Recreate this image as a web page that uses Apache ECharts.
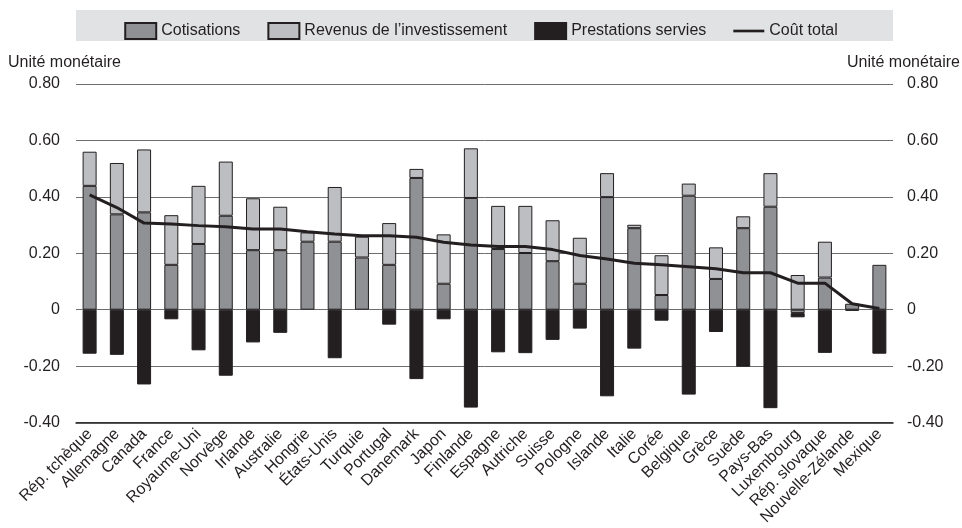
<!DOCTYPE html>
<html>
<head>
<meta charset="utf-8">
<script src="https://cdn.jsdelivr.net/npm/echarts@6/dist/echarts.min.js"></script>
<style>
html,body{margin:0;padding:0;background:#fff;}
#chart{width:962px;height:528px;}
</style>
</head>
<body>
<div id="chart"></div>
<script>
const categories = ['Rép. tchèque','Allemagne','Canada','France','Royaume-Uni','Norvège','Irlande','Australie','Hongrie','États-Unis','Turquie','Portugal','Danemark','Japon','Finlande','Espagne','Autriche','Suisse','Pologne','Islande','Italie','Corée','Belgique','Grèce','Suède','Pays-Bas','Luxembourg','Rép. slovaque','Nouvelle-Zélande','Mexique'];
const cotisations = [0.439,0.338,0.345,0.159,0.233,0.333,0.211,0.211,0.241,0.241,0.185,0.159,0.467,0.092,0.396,0.215,0.201,0.172,0.092,0.399,0.289,0.052,0.404,0.109,0.289,0.365,-0.012,0.114,0.021,0.159];
const revenus = [0.121,0.182,0.223,0.176,0.206,0.192,0.184,0.154,0.033,0.194,0.074,0.148,0.032,0.175,0.176,0.153,0.167,0.145,0.163,0.085,0.012,0.141,0.043,0.112,0.042,0.119,0.123,0.127,null,null];
const prestations = [-0.156,-0.160,-0.265,-0.034,-0.144,-0.234,-0.116,-0.082,null,-0.172,null,-0.053,-0.246,-0.034,-0.347,-0.151,-0.154,-0.107,-0.067,-0.307,-0.138,-0.039,-0.301,-0.079,-0.202,-0.349,-0.015,-0.153,-0.004,-0.156];
const coutTotal = [0.407,0.362,0.307,0.304,0.298,0.294,0.286,0.286,0.276,0.268,0.262,0.262,0.257,0.239,0.229,0.224,0.224,0.213,0.192,0.180,0.165,0.159,0.152,0.145,0.131,0.131,0.094,0.094,0.021,0.004];
const yTicks = {min:-0.4, max:0.8, interval:0.2};
const axisTitle = 'Unité monétaire';

const dark = '#231f20';
const font = 'Liberation Sans, Arial, Helvetica, sans-serif';
const fmt = v => Math.abs(v) < 1e-9 ? '0' : v.toFixed(2);

const chart = echarts.init(document.getElementById('chart'), null, {renderer:'canvas'});
const barStyle = (c) => ({color:c, borderColor:dark, borderWidth:1});
chart.setOption({
  animation:false,
  backgroundColor:'#ffffff',
  textStyle:{fontFamily:font},
  graphic:[
    {type:'rect', left:76, top:10, shape:{width:817, height:31}, style:{fill:'#e1e2e3'}, z:-1},
    {type:'text', left:8, top:55, style:{text:axisTitle, font:'16px '+font, fill:dark}},
    {type:'text', right:2, top:55, style:{text:axisTitle, font:'16px '+font, fill:dark}}
  ],
  legend:{
    top:17, left:'center',
    itemWidth:31, itemHeight:16, itemGap:27,
    textStyle:{fontSize:16, color:dark, fontFamily:font},
    data:[
      {name:'Cotisations', icon:'rect'},
      {name:'Revenus de l’investissement', icon:'rect'},
      {name:'Prestations servies', icon:'rect'},
      {name:'Coût total', icon:'path://M0,0 L35,0 L35,3 L0,3 Z', itemStyle:{color:dark, borderWidth:0}}
    ]
  },
  grid:{left:76, right:69, top:84, bottom:104, containLabel:false},
  xAxis:{
    type:'category', data:categories, boundaryGap:true,
    axisLine:{onZero:false, lineStyle:{color:dark, width:1.5}},
    axisTick:{inside:true, length:6, lineStyle:{color:dark}},
    axisLabel:{rotate:45, fontSize:16, color:dark, margin:9, interval:0, fontFamily:font},
    splitLine:{show:false}
  },
  yAxis:[
    {type:'value', min:yTicks.min, max:yTicks.max, interval:yTicks.interval, position:'left',
     axisLine:{show:false}, axisTick:{show:false},
     axisLabel:{formatter:fmt, fontSize:16, color:dark, margin:16, fontFamily:font},
     splitLine:{lineStyle:{color:'#6d6e70', width:1}}},
    {type:'value', min:yTicks.min, max:yTicks.max, interval:yTicks.interval, position:'right',
     axisLine:{show:false}, axisTick:{show:false},
     axisLabel:{formatter:fmt, fontSize:16, color:dark, margin:14, fontFamily:font},
     splitLine:{show:false}}
  ],
  series:[
    {name:'Cotisations', type:'bar', stack:'a', data:cotisations, barWidth:14, itemStyle:barStyle('#909194')},
    {name:'Revenus de l’investissement', type:'bar', stack:'a', data:revenus, barWidth:14, itemStyle:barStyle('#bdbec1')},
    {name:'Prestations servies', type:'bar', stack:'a', data:prestations, barWidth:14, itemStyle:barStyle(dark)},
    {name:'Coût total', type:'line', data:coutTotal, symbol:'none', showSymbol:false, z:5,
     lineStyle:{color:dark, width:3}, itemStyle:{color:dark}}
  ]
});
</script>
</body>
</html>
